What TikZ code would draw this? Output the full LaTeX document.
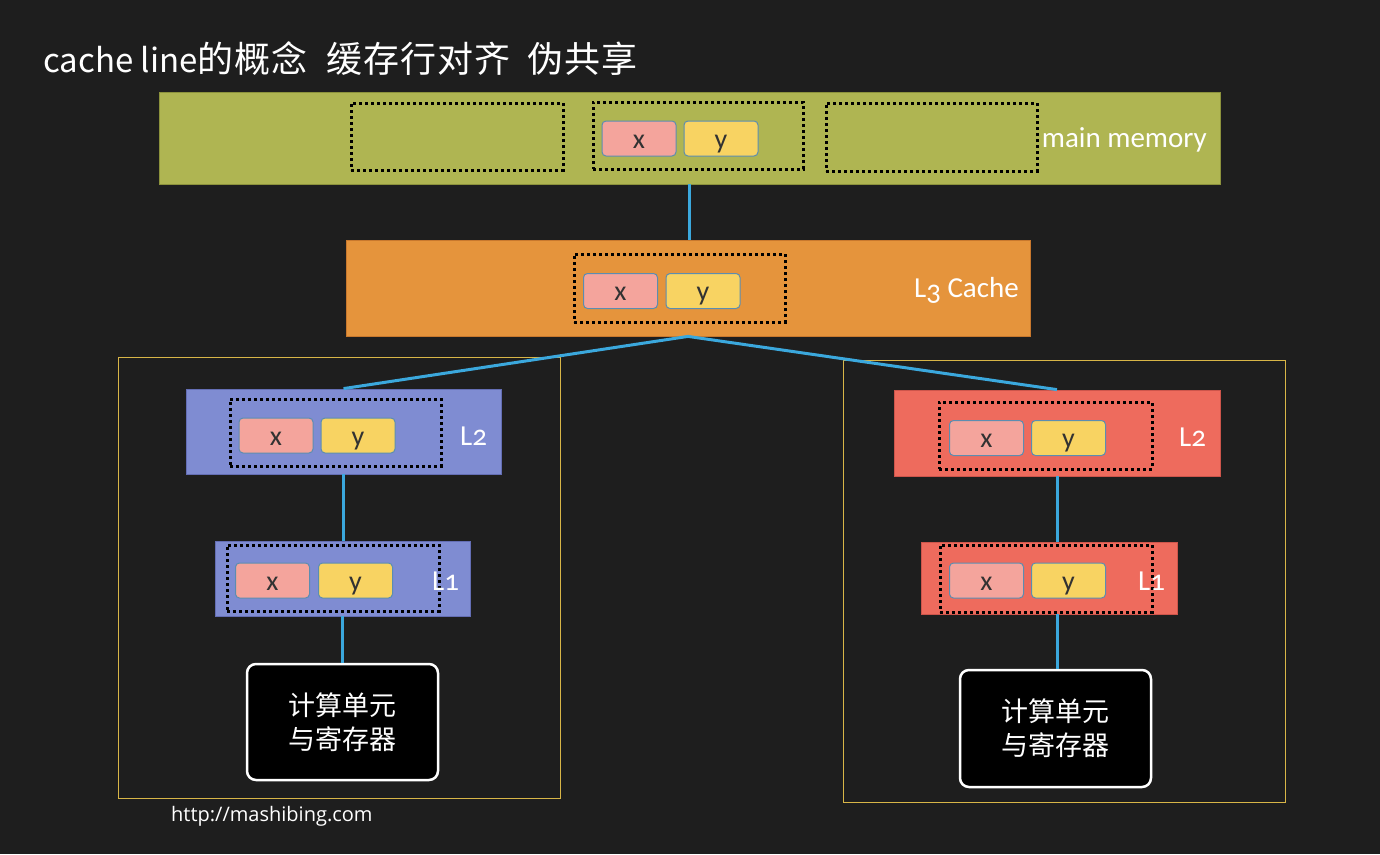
\documentclass[tikz,border=0pt]{standalone}
\usepackage{fontspec}
\setmainfont{Carlito}[Numbers=OldStyle]
\newfontfamily\cjk{Noto Sans CJK SC}
\newfontfamily\urlfont{Open Sans}
\newcommand\tch[1]{\makebox[37pt][l]{#1}}
\definecolor{bgc}{RGB}{30,30,30}
\definecolor{olivec}{RGB}{175,181,82}
\definecolor{olived}{RGB}{140,146,60}
\definecolor{orangec}{RGB}{229,148,60}
\definecolor{oranged}{RGB}{200,120,45}
\definecolor{bluec}{RGB}{127,140,210}
\definecolor{blued}{RGB}{100,110,180}
\definecolor{redc}{RGB}{238,107,93}
\definecolor{redd}{RGB}{205,85,75}
\definecolor{pinkc}{RGB}{244,164,156}
\definecolor{yellowc}{RGB}{248,211,98}
\definecolor{cellb}{RGB}{91,141,177}
\definecolor{linkc}{RGB}{59,168,221}
\definecolor{goldc}{RGB}{216,181,71}
\definecolor{txtc}{RGB}{50,50,50}
\begin{document}
\begin{tikzpicture}[x=1pt,y=-1pt,
  level/.style={rectangle, inner sep=0pt, line width=0.8pt},
  cell/.style={rectangle, rounded corners=4pt, draw=cellb, line width=1pt,
    minimum width=74pt, minimum height=35pt, inner sep=0pt, text=txtc,
    text height=19pt, text depth=0pt,
    font=\fontsize{28}{28}\selectfont},
  cellx/.style={cell, fill=pinkc},
  celly/.style={cell, fill=yellowc},
  lineframe/.style={rectangle, draw=black, line width=3pt,
    dash pattern=on 3pt off 3pt, inner sep=0pt},
  link/.style={draw=linkc, line width=3pt},
  frame/.style={draw=goldc, line width=1pt},
  cpu/.style={rectangle, rounded corners=9pt, fill=black, draw=white,
    line width=2.5pt, text=white, align=center,
    font=\cjk\fontsize{27}{34}\selectfont},
  lbl/.style={text=white, inner sep=0pt, font=\fontsize{29}{29}\selectfont}
]
\fill[bgc] (0,0) rectangle (1380,854);
\useasboundingbox (0,0) rectangle (1380,854);

% title
\node[anchor=base west, text=white, inner sep=0pt, font=\cjk\fontsize{36}{36}\selectfont] (title) at (43,72)
  {{\fontsize{33}{33}\selectfont cache line}\tch{的}\tch{概}\tch{念}\hspace{18pt}\tch{缓}\tch{存}\tch{行}\tch{对}\tch{齐}\hspace{16pt}\tch{伪}\tch{共}\tch{享}};

% core frames
\node[frame, rectangle, minimum width=442pt, minimum height=441pt, inner sep=0pt] (frameA) at (339,577.5) {};
\node[frame, rectangle, minimum width=442pt, minimum height=442pt, inner sep=0pt] (frameB) at (1064,581) {};

% main memory
\node[level, fill=olivec, draw=olived, minimum width=1061pt, minimum height=92pt] (mm) at (689.5,138) {};
\node[lineframe, minimum width=212pt, minimum height=67pt] (mmd1) at (457,136.5) {};
\node[lineframe, minimum width=210pt, minimum height=67pt] (mmd2) at (698,135.5) {};
\node[lineframe, minimum width=211pt, minimum height=68pt] (mmd3) at (931.5,137) {};
\node[cellx] (mmx) at (639,138.5) {x};
\node[celly] (mmy) at (721,138.5) {y};
\node[lbl, anchor=east] (mmlbl) at (1207,140) {main memory};

% L3
\node[level, fill=orangec, draw=oranged, minimum width=684pt, minimum height=96pt] (l3) at (688,288) {};
\node[lineframe, minimum width=211pt, minimum height=68pt] (l3d) at (679.5,288) {};
\node[cellx] (l3x) at (620.5,291) {x};
\node[celly] (l3y) at (703,291) {y};
\node[lbl, anchor=east] (l3lbl) at (1019,290) {L\raisebox{-3pt}{3} Cache};

% left L2
\node[level, fill=bluec, draw=blued, minimum width=315pt, minimum height=85pt] (l2a) at (343.5,431.5) {};
\node[lineframe, minimum width=211pt, minimum height=67pt] (l2ad) at (335.5,432.5) {};
\node[cellx] (l2ax) at (276,435.5) {x};
\node[celly] (l2ay) at (358,435.5) {y};
\node[lbl, anchor=west] (l2albl) at (460,436) {L2};

% left L1
\node[level, fill=bluec, draw=blued, minimum width=255pt, minimum height=75pt] (l1a) at (342.5,578.5) {};
\node[lineframe, minimum width=212pt, minimum height=66pt] (l1ad) at (333,578) {};
\node[cellx] (l1ax) at (272.5,580.5) {x};
\node[celly] (l1ay) at (355.5,580.5) {y};
\node[lbl, anchor=west] (l1albl) at (432,581) {L1};

% left cpu
\node[cpu, minimum width=191pt, minimum height=116pt] (cpua) at (342.5,722) {计算单元\\与寄存器};

% right L2
\node[level, fill=redc, draw=redd, minimum width=326pt, minimum height=86pt] (l2b) at (1057,433) {};
\node[lineframe, minimum width=213pt, minimum height=67pt] (l2bd) at (1045.5,435.5) {};
\node[cellx] (l2bx) at (986.5,438) {x};
\node[celly] (l2by) at (1068.5,438) {y};
\node[lbl, anchor=west] (l2blbl) at (1179,437) {L2};

% right L1
\node[level, fill=redc, draw=redd, minimum width=256pt, minimum height=72pt] (l1b) at (1049,578) {};
\node[lineframe, minimum width=212pt, minimum height=67pt] (l1bd) at (1046,578.5) {};
\node[cellx] (l1bx) at (986.5,580.5) {x};
\node[celly] (l1by) at (1068.5,580.5) {y};
\node[lbl, anchor=west] (l1blbl) at (1138,581) {L1};

% right cpu
\node[cpu, minimum width=191pt, minimum height=117pt] (cpub) at (1055.5,728.5) {计算单元\\与寄存器};

% connectors
\draw[link] (mm.south) -- (mm.south |- l3.north);
\draw[link] (l3.south) -- (l2a.north);
\draw[link] (l3.south) -- (l2b.north);
\draw[link] (l2a.south) -- (l2a.south |- l1a.north);
\draw[link] (l1a.south) -- (cpua.north);
\draw[link] (l2b.south) -- (l2b.south |- l1b.north);
\draw[link] (l2b.south |- l1b.south) -- (l2b.south |- cpub.north);

% footer
\node[anchor=west, text=white, inner sep=0pt, font=\urlfont\fontsize{20}{20}\selectfont] (url) at (171,816) {http://mashibing.com};
\end{tikzpicture}
\end{document}
